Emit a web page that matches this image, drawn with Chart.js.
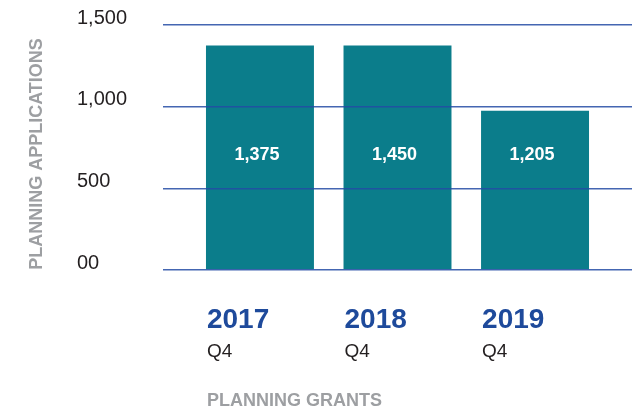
<!DOCTYPE html>
<html>
<head>
<meta charset="utf-8">
<script src="https://cdn.jsdelivr.net/npm/chart.js@4"></script>
<style>
  html, body { margin: 0; padding: 0; background: #fff; }
  #wrap { width: 638px; height: 409px; }
</style>
</head>
<body>
<div id="wrap"><canvas id="grafica" width="638" height="409"></canvas></div>
<script>
// datos
var anios = ["2017", "2018", "2019"];
var trimestres = ["Q4", "Q4", "Q4"];
var valores = [1375, 1375, 975]; // altura de las barras tal como se ven
var etiquetas = ["1,375", "1,450", "1,205"]; // texto dentro de cada barra
var ticksY = [0, 500, 1000, 1500];
var ticksYTexto = ["00", "500", "1,000", "1,500"];
var tituloY = "PLANNING APPLICATIONS";
var tituloX = "PLANNING GRANTS";
var alturaEtiqueta = 710; // valor del eje Y donde van los textos de las barras

var fuente = "'Liberation Sans', Arial, Helvetica, sans-serif";

// Textos extra: títulos, años y valores
var textosPlugin = {
  id: "textos",
  afterDraw: function (chart) {
    var ctx = chart.ctx;
    var y = chart.scales.y;
    var meta = chart.getDatasetMeta(0);
    ctx.save();

    // valores dentro de las barras
    ctx.fillStyle = "#ffffff";
    ctx.font = "bold 18px " + fuente;
    ctx.textAlign = "center";
    ctx.textBaseline = "middle";
    meta.data.forEach(function (bar, i) {
      ctx.fillText(etiquetas[i], bar.x - 3, y.getPixelForValue(alturaEtiqueta) + 1);
    });

    // años y trimestres debajo
    ctx.textAlign = "left";
    ctx.textBaseline = "alphabetic";
    meta.data.forEach(function (bar, i) {
      var izq = bar.x - bar.width / 2 + 1;
      ctx.fillStyle = "#1e4a9b";
      ctx.font = "bold 28px " + fuente;
      ctx.fillText(anios[i], izq, 328);
      ctx.fillStyle = "#231f20";
      ctx.font = "19px " + fuente;
      ctx.fillText(trimestres[i], izq, 357);
    });

    // título X
    ctx.fillStyle = "#9d9fa2";
    ctx.font = "bold 18px " + fuente;
    ctx.fillText(tituloX, meta.data[0].x - meta.data[0].width / 2 + 1, 406);

    // título Y rotado
    ctx.translate(42, 154);
    ctx.rotate(-Math.PI / 2);
    ctx.textAlign = "center";
    ctx.fillText(tituloY, 0, 0);

    ctx.restore();
  },
};

var ctx = document.getElementById("grafica").getContext("2d");

new Chart(ctx, {
  type: "bar",
  data: {
    datasets: [
      {
        data: valores.map(function (v, i) {
          return { x: i, y: v };
        }),
        backgroundColor: "#0b7d8b",
        borderWidth: 0,
        barPercentage: 0.785,
        categoryPercentage: 1,
      },
    ],
  },
  options: {
    responsive: false,
    animation: false,
    layout: { padding: { left: 77, top: 25, right: 6, bottom: 139 } },
    plugins: {
      legend: { display: false },
      tooltip: { enabled: false },
    },
    scales: {
      x: {
        type: "linear",
        display: false,
        offset: false,
        min: -0.705,
        max: 2.705,
        afterBuildTicks: function (scale) {
          scale.ticks = anios.map(function (a, i) {
            return { value: i };
          });
        },
      },
      y: {
        min: 0,
        max: 1500,
        afterFit: function (scale) {
          scale.width = 86;
        },
        afterBuildTicks: function (scale) {
          scale.ticks = ticksY.map(function (v) {
            return { value: v };
          });
        },
        border: { display: false },
        grid: {
          z: 1,
          color: "rgba(35, 75, 165, 0.85)",
          lineWidth: 1.5,
          drawTicks: false,
        },
        ticks: {
          crossAlign: "far",
          labelOffset: -7,
          color: "#231f20",
          font: { family: fuente, size: 20 },
          callback: function (value) {
            return ticksYTexto[ticksY.indexOf(value)];
          },
        },
      },
    },
  },
  plugins: [textosPlugin],
});
</script>
</body>
</html>
